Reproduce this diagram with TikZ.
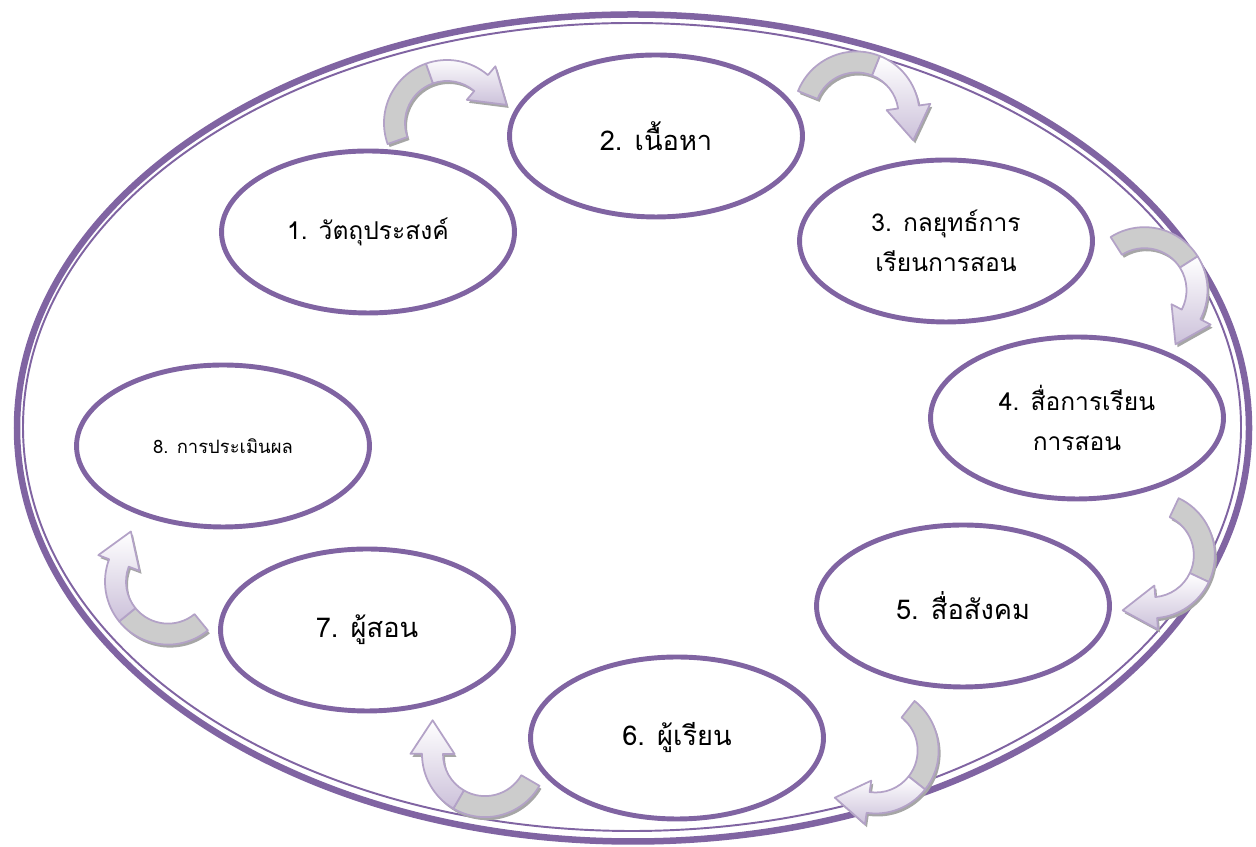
\documentclass[tikz,border=0pt]{standalone}
\usepackage{fontspec}
\newfontfamily\thaifont[Script=Thai]{Loma}
\usetikzlibrary{shapes.geometric, positioning}
\definecolor{framepurple}{RGB}{128,100,162}
\definecolor{arrowedge}{RGB}{179,162,199}
\definecolor{arrowlav}{RGB}{204,193,218}
\definecolor{arrowgray}{RGB}{204,204,204}
\definecolor{arrowshade}{RGB}{166,166,166}

\tikzset{
  topic/.style={ellipse, draw=framepurple, line width=2.8pt, minimum width=5.86cm, minimum height=3.24cm, inner sep=0pt, align=center, font=\thaifont},
  bigtext/.style={font=\thaifont\fontsize{15.5}{19}\selectfont},
  midtext/.style={font=\thaifont\fontsize{14}{23}\selectfont},
  smalltext/.style={font=\thaifont\fontsize{10.5}{13}\selectfont},
  arrshadow/.pic={
    \fill[arrowshade] (190:60) arc[start angle=190, end angle=40, radius=60] -- (40:71) -- (58.9,7.6) -- (40:29) -- (40:40) arc[start angle=40, end angle=190, radius=40] -- cycle;
  },
  curvarr/.pic={
    \filldraw[fill=arrowgray, draw=arrowedge, line width=1pt, line join=round]
      (190:60) arc[start angle=190, end angle=100, radius=60] -- (100:40) arc[start angle=100, end angle=190, radius=40] -- cycle;
    \filldraw[top color=white, bottom color=arrowlav, draw=arrowedge, line width=1pt, line join=round]
      (100:60) arc[start angle=100, end angle=40, radius=60] -- (40:71) -- (58.9,7.6) -- (40:29) -- (40:40) arc[start angle=40, end angle=100, radius=40] -- cycle;
  }
}

\begin{document}
\begin{tikzpicture}[x=0.02cm, y=0.02cm]
  \useasboundingbox (0,0) rectangle (1256,847);

  % outer frame
  \draw[framepurple, line width=3.7pt] (633,419) ellipse [x radius=616, y radius=413.5];
  \draw[framepurple, line width=1.1pt] (632,420) ellipse [x radius=609, y radius=404];

  % steps
  \node[topic, midtext] (objective) at (368,615) {1. วัตถุประสงค์};
  \node[topic, bigtext] (content) at (656,711) {2. เนื้อหา};
  \node[topic, midtext] (strategy) at (946,606) {3. กลยุทธ์การ\\เรียนการสอน};
  \node[topic, midtext] (media) at (1077,429) {4. สื่อการเรียน\\การสอน};
  \node[topic, bigtext] (social) at (963,241) {5. สื่อสังคม};
  \node[topic, bigtext] (learner) at (677,109) {6. ผู้เรียน};
  \node[topic, bigtext] (teacher) at (367,217) {7. ผู้สอน};
  \node[topic, smalltext] (evaluation) at (223,401) {8. การประเมินผล};

  % curved arrows
  \foreach \cx/\cy/\rot in {447/724/9.5, 856.5/732.5/-31.8, 1144.5/556.8/-67.5, 1151.8/291.8/-125.2,
                            875.6/96.5/-138.2, 485/92.9/139.8, 168/265.4/119.2} {
    \pic[shift={(\cx+2,\cy-3)}, rotate=\rot, scale=1.05] {arrshadow};
    \pic[shift={(\cx,\cy)}, rotate=\rot, scale=1.05] {curvarr};
  }
\end{tikzpicture}
\end{document}
